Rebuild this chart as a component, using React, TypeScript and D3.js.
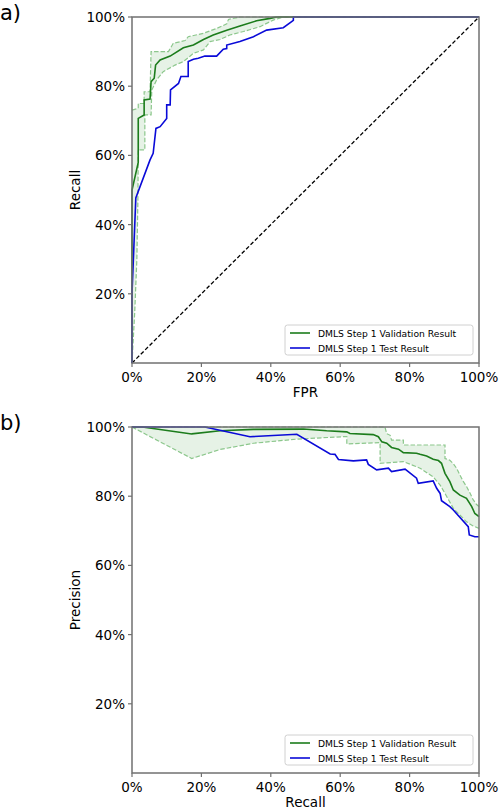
import * as d3 from 'd3';

type Pt = [number, number];

const TICKS = [0, 0.2, 0.4, 0.6, 0.8, 1];
const TICK_LABELS = ['0%', '20%', '40%', '60%', '80%', '100%'];
const LEGEND_LABELS = ['DMLS Step 1 Validation Result', 'DMLS Step 1 Test Result'];

// a) ROC: [FPR, recall]
const rocValidation: Pt[] = [
  [0, 0], [0, 0.5], [0.018, 0.58], [0.018, 0.707], [0.035, 0.717], [0.035, 0.76],
  [0.052, 0.763], [0.055, 0.813], [0.064, 0.823], [0.068, 0.861], [0.081, 0.876],
  [0.11, 0.887], [0.148, 0.911], [0.177, 0.919], [0.206, 0.935], [0.234, 0.948],
  [0.273, 0.962], [0.311, 0.974], [0.359, 0.989], [0.398, 0.996], [0.417, 1], [1, 1],
];
const rocValidationUpper: Pt[] = [
  [0, 0.731], [0.018, 0.736], [0.018, 0.75], [0.035, 0.75], [0.035, 0.784],
  [0.052, 0.784], [0.055, 0.9], [0.105, 0.9], [0.119, 0.924], [0.153, 0.932],
  [0.162, 0.943], [0.206, 0.953], [0.244, 0.967], [0.273, 0.98], [0.278, 0.993],
  [0.311, 1], [1, 1],
];
const rocValidationLower: Pt[] = [
  [0, 0], [0.008, 0.15], [0.014, 0.3], [0.017, 0.47], [0.018, 0.616], [0.037, 0.616],
  [0.037, 0.717], [0.055, 0.717], [0.057, 0.789], [0.071, 0.818], [0.09, 0.842],
  [0.124, 0.861], [0.148, 0.871], [0.177, 0.895], [0.206, 0.905], [0.225, 0.929],
  [0.254, 0.935], [0.282, 0.948], [0.321, 0.958], [0.369, 0.972], [0.407, 0.991],
  [0.436, 1], [1, 1],
];
const rocTest: Pt[] = [
  [0, 0], [0, 0.2], [0.011, 0.477], [0.052, 0.587], [0.061, 0.606], [0.069, 0.678],
  [0.081, 0.683], [0.1, 0.707], [0.1, 0.746], [0.11, 0.746], [0.111, 0.789],
  [0.134, 0.808], [0.141, 0.828], [0.162, 0.828], [0.162, 0.871], [0.177, 0.878],
  [0.191, 0.881], [0.21, 0.887], [0.244, 0.887], [0.263, 0.907], [0.273, 0.909],
  [0.273, 0.919], [0.311, 0.929], [0.35, 0.943], [0.388, 0.962], [0.436, 0.969],
  [0.465, 0.99], [0.465, 1], [1, 1],
];

// b) PR: [recall, precision]
const prValidation: Pt[] = [
  [0, 1], [0.03, 1], [0.172, 0.98], [0.254, 0.989], [0.35, 0.993], [0.494, 0.994],
  [0.561, 0.989], [0.619, 0.986], [0.628, 0.981], [0.695, 0.978], [0.71, 0.972],
  [0.72, 0.957], [0.734, 0.953], [0.748, 0.941], [0.768, 0.936], [0.782, 0.926],
  [0.82, 0.924], [0.83, 0.921], [0.849, 0.916], [0.868, 0.907], [0.883, 0.903],
  [0.892, 0.895], [0.902, 0.866], [0.916, 0.842], [0.926, 0.818], [0.945, 0.803],
  [0.964, 0.794], [0.979, 0.77], [0.988, 0.75], [1, 0.741],
];
const prValidationUpper: Pt[] = [
  [0, 1], [0.729, 1], [0.734, 0.981], [0.744, 0.976], [0.748, 0.962], [0.782, 0.962],
  [0.782, 0.948], [0.902, 0.948], [0.902, 0.909], [0.916, 0.904], [0.926, 0.894],
  [0.936, 0.88], [0.945, 0.861], [0.955, 0.842], [0.964, 0.828], [0.974, 0.809],
  [0.983, 0.79], [0.993, 0.776], [1, 0.77],
];
const prValidationLower: Pt[] = [
  [0, 1], [0.172, 0.909], [0.254, 0.935], [0.35, 0.953], [0.475, 0.965],
  [0.609, 0.972], [0.619, 0.972], [0.619, 0.951], [0.715, 0.955], [0.715, 0.895],
  [0.782, 0.9], [0.83, 0.881], [0.868, 0.856], [0.888, 0.832], [0.902, 0.808],
  [0.926, 0.765], [0.964, 0.726], [0.983, 0.714], [1, 0.707],
];
const prTest: Pt[] = [
  [0, 1], [0.21, 1], [0.34, 0.972], [0.475, 0.979], [0.571, 0.922], [0.585, 0.921],
  [0.595, 0.906], [0.638, 0.902], [0.676, 0.905], [0.681, 0.892], [0.705, 0.876],
  [0.739, 0.881], [0.748, 0.871], [0.787, 0.878], [0.82, 0.852], [0.825, 0.837],
  [0.868, 0.844], [0.878, 0.823], [0.888, 0.808], [0.892, 0.787], [0.916, 0.77],
  [0.926, 0.76], [0.969, 0.712], [0.972, 0.688], [0.988, 0.683], [1, 0.683],
];

const LEFT = 132;
const RIGHT = 479;
const PLOT_H = 346;
const FONT = "'DejaVu Sans', sans-serif";
const GREEN = '#1c7c1c';
const BLUE = '#0a0ad8';
const BAND_LINE = '#8cc78c';
const BAND_FILL = '#e6f2e6';
const SPINE = '#707070';

interface PanelProps {
  top: number;
  tag: string;
  xLabel: string;
  yLabel: string;
  main: Pt[];
  upper: Pt[];
  lower: Pt[];
  test: Pt[];
  diagonal?: boolean;
}

function Panel({ top, tag, xLabel, yLabel, main, upper, lower, test, diagonal }: PanelProps) {
  const bottom = top + PLOT_H;
  const x = d3.scaleLinear().domain([0, 1]).range([LEFT, RIGHT]);
  const y = d3.scaleLinear().domain([0, 1]).range([bottom, top]);
  const line = d3.line<Pt>().x((d) => x(d[0])).y((d) => y(d[1]));
  const band = `${line([...upper, ...lower.slice().reverse()])}Z`;

  return (
    <g>
      <text x={0} y={top - 4} fontSize={21} dominantBaseline="central">
        {tag}
      </text>

      <path d={band} fill={BAND_FILL} stroke="none" />
      <path d={line(upper) ?? ''} fill="none" stroke={BAND_LINE} strokeWidth={1.2} strokeDasharray="4.5,2" />
      <path d={line(lower) ?? ''} fill="none" stroke={BAND_LINE} strokeWidth={1.2} strokeDasharray="4.5,2" />
      {diagonal ? (
        <line x1={x(0)} y1={y(0)} x2={x(1)} y2={y(1)} stroke="#000" strokeWidth={1.3} strokeDasharray="4,2.2" />
      ) : null}
      <path d={line(main) ?? ''} fill="none" stroke={GREEN} strokeWidth={1.6} />
      <path d={line(test) ?? ''} fill="none" stroke={BLUE} strokeWidth={1.6} />

      <rect x={LEFT} y={top} width={RIGHT - LEFT} height={PLOT_H} fill="none" stroke={SPINE} strokeWidth={1.5} />

      {TICKS.map((t, i) => (
        <g key={`x${t}`}>
          <line x1={x(t)} x2={x(t)} y1={bottom} y2={bottom + 4} stroke={SPINE} strokeWidth={1.2} />
          <text x={x(t)} y={bottom + 14} textAnchor="middle" dominantBaseline="central" fontSize={13.5}>
            {TICK_LABELS[i]}
          </text>
        </g>
      ))}
      {TICKS.slice(1).map((t, i) => (
        <g key={`y${t}`}>
          <line x1={LEFT - 4} x2={LEFT} y1={y(t)} y2={y(t)} stroke={SPINE} strokeWidth={1.2} />
          <text x={LEFT - 7} y={y(t)} textAnchor="end" dominantBaseline="central" fontSize={13.5}>
            {TICK_LABELS[i + 1]}
          </text>
        </g>
      ))}

      <text x={(LEFT + RIGHT) / 2} y={bottom + 29} textAnchor="middle" dominantBaseline="central" fontSize={13.5}>
        {xLabel}
      </text>
      <text
        transform={`translate(75,${(top + bottom) / 2}) rotate(-90)`}
        textAnchor="middle"
        dominantBaseline="central"
        fontSize={13.5}
      >
        {yLabel}
      </text>

      <g transform={`translate(285,${bottom - 38})`}>
        <rect width={188} height={30} rx={2.5} fill="#fff" fillOpacity={0.8} stroke="#d0d0d0" strokeWidth={1} />
        {[GREEN, BLUE].map((c, i) => (
          <g key={c} transform={`translate(0,${8 + i * 15})`}>
            <line x1={5} x2={25} y1={0} y2={0} stroke={c} strokeWidth={1.6} />
            <text x={33} y={0} dominantBaseline="central" fontSize={9.2}>
              {LEGEND_LABELS[i]}
            </text>
          </g>
        ))}
      </g>
    </g>
  );
}

export default function App() {
  return (
    <svg
      width={500}
      height={809}
      style={{ position: 'absolute', left: 0, top: 0, background: '#fff' }}
      fontFamily={FONT}
    >
      <Panel
        top={17}
        tag="a)"
        xLabel="FPR"
        yLabel="Recall"
        main={rocValidation}
        upper={rocValidationUpper}
        lower={rocValidationLower}
        test={rocTest}
        diagonal
      />
      <Panel
        top={427}
        tag="b)"
        xLabel="Recall"
        yLabel="Precision"
        main={prValidation}
        upper={prValidationUpper}
        lower={prValidationLower}
        test={prTest}
      />
    </svg>
  );
}
